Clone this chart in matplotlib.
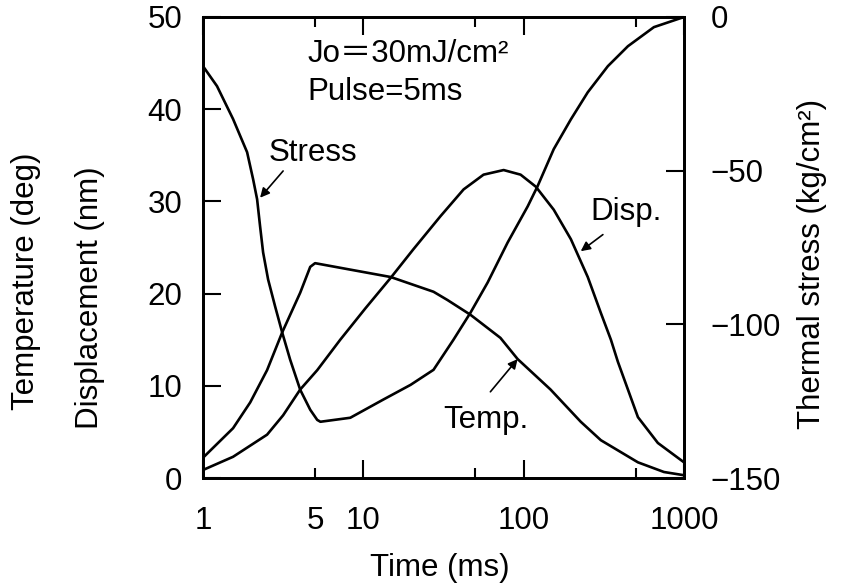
import matplotlib
matplotlib.use("Agg")
import matplotlib.pyplot as plt
from matplotlib.ticker import NullLocator

plt.rcParams['font.family'] = ['Liberation Sans', 'Noto Sans CJK JP', 'DejaVu Sans']

# ---- data ----
time_temp = [1, 1.54, 1.97, 2.51, 3.12, 4.04, 4.665, 5.0, 8.29, 14.8, 27.4, 33.5,
             46.6, 71.6, 91.7, 147, 227, 303, 516, 750, 1000]
temperature = [2.2, 5.4, 8.2, 11.7, 15.8, 20.1, 22.9, 23.3, 22.6, 21.8, 20.2, 19.3,
               17.7, 15.2, 12.9, 9.6, 6.1, 4.1, 1.7, 0.65, 0.3]

time_disp = [1, 1.54, 2.51, 3.16, 4.04, 5.16, 7.18, 10.3, 14.8, 20.5, 30.3, 42.2,
             56.2, 75.0, 95.7, 119, 154, 197, 251, 303, 350, 387, 516, 687, 1000]
displacement = [0.87, 2.3, 4.7, 6.8, 9.6, 11.7, 15.0, 18.4, 21.7, 24.8, 28.4, 31.3,
                32.9, 33.4, 32.9, 31.6, 29.1, 25.9, 21.8, 17.9, 15.0, 12.6, 6.6, 3.8, 1.7]

time_stress = [1, 1.223, 1.54, 1.884, 2.054, 2.175, 2.27, 2.371, 2.547, 2.818, 3.12,
               3.496, 4.04, 4.665, 5.158, 5.4, 8.29, 13.3, 19.7, 27.4, 36.5, 46.6,
               59.6, 79.4, 106, 122, 154, 197, 251, 335, 447, 649, 1000]
stress = [-16.0, -22.5, -33.2, -44.0, -52.8, -59.3, -68.1, -76.6, -85.4, -94.2, -102.7,
          -111.5, -121.3, -127.8, -131.1, -131.7, -130.4, -124.5, -119.7, -114.8, -105.0,
          -96.2, -86.4, -73.4, -61.6, -55.1, -43.0, -33.3, -24.5, -16.0, -9.5, -3.3, 0.0]

x_major = [1, 10, 100, 1000]
x_major_labels = ['1', '10', '100', '1000']
x_minor = [5, 50, 500]
x_minor_labels = ['5', '', '']
left_ticks = [0, 10, 20, 30, 40, 50]
right_ticks = [0, -50, -100, -150]
right_tick_labels = ['0', '\u221250', '\u2212100', '\u2212150']

FS = 22.5
LW = 1.9

fig = plt.figure(figsize=(8.46, 5.88), dpi=100)
ax = fig.add_axes([203/846, 1-478/588, (684-203)/846, (478-17)/588])
ax2 = ax.twinx()

ax.plot(time_temp, temperature, color='black', lw=LW)
ax.plot(time_disp, displacement, color='black', lw=LW)
ax2.plot(time_stress, stress, color='black', lw=LW)

ax.set_xscale('log')
ax.set_xlim(1, 1000)
ax.set_ylim(0, 50)
ax2.set_ylim(-150, 0)

ax.set_xticks(x_major, labels=x_major_labels)
ax.set_xticks(x_minor, labels=x_minor_labels, minor=True)
ax.set_yticks(left_ticks)
ax.set_yticklabels([str(v) for v in left_ticks])
ax.yaxis.set_minor_locator(NullLocator())
ax2.set_yticks(right_ticks, labels=right_tick_labels)
ax2.yaxis.set_minor_locator(NullLocator())

ax.tick_params(axis='x', which='major', direction='in', length=13, width=1.5,
               top=True, pad=20, labelsize=FS)
ax.tick_params(axis='x', which='minor', direction='in', length=7, width=1.5,
               top=True, pad=20, labelsize=FS)
ax.tick_params(axis='y', direction='in', length=13, width=1.5, right=False,
               pad=15, labelsize=FS)
ax2.tick_params(axis='y', direction='in', length=13, width=1.5, pad=19,
                labelsize=FS)

for a in (ax, ax2):
    for s in a.spines.values():
        s.set_linewidth(2.0)

# axis labels
fig.text(26/846, 1-281/588, 'Temperature (deg)', rotation=90, ha='center',
         va='center', fontsize=FS)
fig.text(90/846, 1-298/588, 'Displacement (nm)', rotation=90, ha='center',
         va='center', fontsize=FS)
fig.text(812/846, 1-264/588, 'Thermal stress (kg/cm\u00b2)', rotation=90,
         ha='center', va='center', fontsize=FS)
fig.text(440/846, 1-568/588, 'Time (ms)', ha='center', va='center', fontsize=FS)

# annotations
ax.text(4.47, 46.0, 'Jo\uff1d30mJ/cm\u00b2', ha='left', va='center', fontsize=FS)
ax.text(4.47, 41.9, 'Pulse=5ms', ha='left', va='center', fontsize=FS)

arrow = dict(arrowstyle='-|>', color='black', lw=1.2, mutation_scale=14,
             shrinkA=0, shrinkB=0)
ax.text(2.55, 35.3, 'Stress', ha='left', va='center', fontsize=FS)
ax.annotate('', xy=(2.27, 30.4), xytext=(3.16, 33.3), arrowprops=arrow)
ax.text(262, 28.8, 'Disp.', ha='left', va='center', fontsize=FS)
ax.annotate('', xy=(227, 24.6), xytext=(312, 26.4), arrowprops=arrow)
ax.text(31.6, 6.3, 'Temp.', ha='left', va='center', fontsize=FS)
ax.annotate('', xy=(91.7, 12.9), xytext=(62.0, 9.35), arrowprops=arrow)

fig.savefig('out.png', dpi=100)
